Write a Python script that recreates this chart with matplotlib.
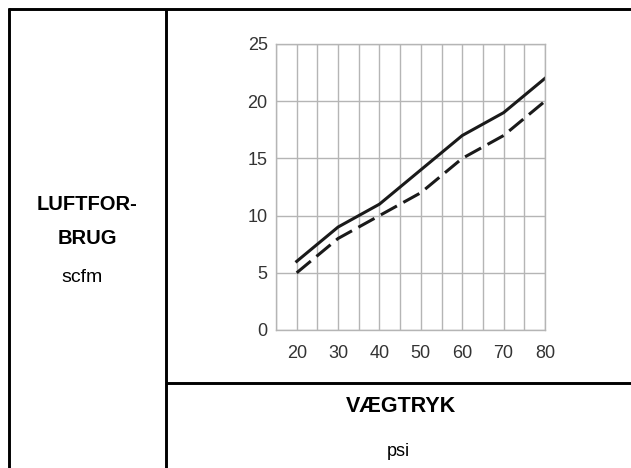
import matplotlib
matplotlib.use('Agg')
import matplotlib.pyplot as plt
from matplotlib.lines import Line2D

# data
pressure = [20, 30, 40, 50, 60, 70, 80]
air_solid = [6, 9, 11, 14, 17, 19, 22]
air_dashed = [5, 8, 10, 12, 15, 17, 20]
xticks = [20, 30, 40, 50, 60, 70, 80]
yticks = [0, 5, 10, 15, 20, 25]

plt.rcParams['font.family'] = ['Liberation Sans', 'DejaVu Sans']

W, H = 631, 468
fig = plt.figure(figsize=(W/100, H/100), dpi=100)

def fx(px):
    return px / W

def fy(py):
    return 1 - py / H

# table frame
lw = 2.1
for (x0, y0, x1, y1) in [(8, 9.2, 631, 9.2), (9.2, 8, 9.2, 468),
                         (166, 9.2, 166, 468), (166, 382.5, 631, 382.5)]:
    fig.add_artist(Line2D([fx(x0), fx(x1)], [fy(y0), fy(y1)], color='black',
                          linewidth=lw, solid_capstyle='butt'))

# chart
ax = fig.add_axes([fx(276), fy(330), fx(545) - fx(276), fy(44) - fy(330)])
ax.plot(pressure, air_solid, color='#1a1a1a', linewidth=2.2, solid_joinstyle='miter')
ax.plot(pressure, air_dashed, color='#1a1a1a', linewidth=2.2, dashes=(6, 2.4))
ax.set_xlim(15, 80)
ax.set_ylim(0, 25)
ax.set_xticks(xticks)
ax.set_xticks(range(15, 81, 5), minor=True)
ax.set_yticks(yticks)
ax.grid(True, which='both', axis='x', color='#b5b5b5', linewidth=1.0)
ax.grid(True, which='major', axis='y', color='#b5b5b5', linewidth=1.0)
ax.set_axisbelow(True)
ax.tick_params(which='both', length=0, labelsize=13, colors='#333333')
ax.tick_params(axis='x', pad=11)
ax.tick_params(axis='y', pad=6)
for sp in ax.spines.values():
    sp.set_color('#b5b5b5')
    sp.set_linewidth(1.0)

# labels
fig.text(fx(87), fy(205), 'LUFTFOR-', ha='center', va='center', fontsize=14.5, fontweight='bold')
fig.text(fx(87), fy(238), 'BRUG', ha='center', va='center', fontsize=14.5, fontweight='bold')
fig.text(fx(82), fy(278), 'scfm', ha='center', va='center', fontsize=14)
fig.text(fx(401), fy(406), 'VÆGTRYK', ha='center', va='center', fontsize=15.5, fontweight='bold')
fig.text(fx(398), fy(452), 'psi', ha='center', va='center', fontsize=13)

fig.savefig('out.png', dpi=100)
